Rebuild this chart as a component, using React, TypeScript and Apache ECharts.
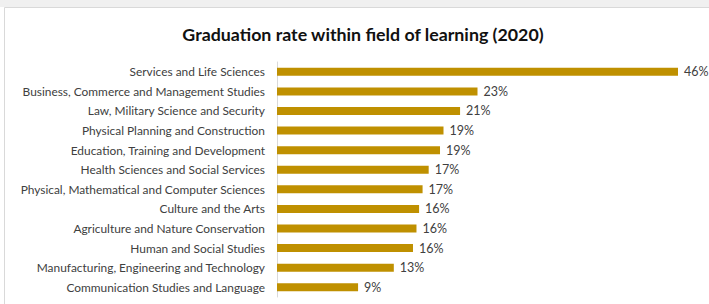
import React, { useEffect, useRef } from "react";
import * as echarts from "echarts";

const categories: string[] = [
  "Services and Life Sciences",
  "Business, Commerce and Management Studies",
  "Law, Military Science and Security",
  "Physical Planning and Construction",
  "Education, Training and Development",
  "Health Sciences and Social Services",
  "Physical, Mathematical and Computer Sciences",
  "Culture and the Arts",
  "Agriculture and Nature Conservation",
  "Human and Social Studies",
  "Manufacturing, Engineering and Technology",
  "Communication Studies and Language",
];

const rates: number[] = [46.0, 23.0, 21.0, 19.1, 18.7, 17.4, 16.7, 16.3, 16.0, 15.6, 13.4, 9.3];

const title = "Graduation rate within field of learning (2020)";

export default function App() {
  const ref = useRef<HTMLDivElement>(null);
  useEffect(() => {
    if (!ref.current) return;
    const chart = echarts.init(ref.current, undefined, { renderer: "svg" });
    chart.setOption({
      animation: false,
      backgroundColor: "#ffffff",
      graphic: [
        { type: "rect", shape: { x: 0, y: 0, width: 709, height: 7 }, style: { fill: "#f0f0f0" }, silent: true, z: -10 },
        { type: "rect", shape: { x: 4.5, y: 7.5, width: 720, height: 320 }, style: { fill: "none", stroke: "#d9d9d9", lineWidth: 1 }, silent: true, z: -10 },
      ],
      title: {
        text: title,
        left: 358,
        textAlign: "center",
        top: 20,
        textStyle: { fontFamily: "Lato", fontWeight: "bold", fontSize: 17.8, color: "#111111" },
      },
      grid: { left: 277, top: 62, width: 401, height: 235, containLabel: false },
      xAxis: {
        type: "value",
        min: 0,
        max: 46,
        show: false,
        splitLine: { show: false },
      },
      yAxis: {
        type: "category",
        data: categories,
        inverse: true,
        axisLine: { show: true, lineStyle: { color: "#d9d9d9", width: 1 } },
        axisTick: { show: false },
        axisLabel: { margin: 12, fontFamily: "Lato", fontSize: 11.9, color: "#404040" },
      },
      series: [
        {
          type: "bar",
          data: rates,
          barWidth: 8,
          itemStyle: { color: "#BF9000" },
          label: {
            show: true,
            position: "right",
            distance: 6,
            fontFamily: "Lato",
            fontSize: 12.5,
            color: "#404040",
            formatter: (p: any) => Math.round(p.value) + "%",
          },
        },
      ],
    });
    return () => chart.dispose();
  }, []);
  return (
    <div
      ref={ref}
      style={{ position: "fixed", left: 0, top: 0, width: 709, height: 304 }}
    />
  );
}
